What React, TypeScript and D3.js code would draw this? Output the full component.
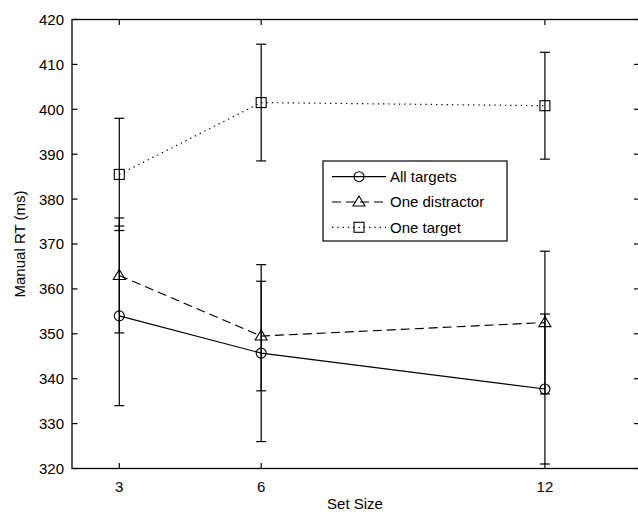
import React from "react";
import * as d3 from "d3";

const setSizes = [3, 6, 12];
const allTargets = [354, 345.7, 337.7];
const allTargetsErr = [20, 19.7, 16.7];
const oneDistractor = [363, 349.5, 352.5];
const oneDistractorErr = [12.8, 12.2, 15.9];
const oneTarget = [385.5, 401.5, 400.8];
const oneTargetErr = [12.5, 13, 11.9];
const yTickValues = [320, 330, 340, 350, 360, 370, 380, 390, 400, 410, 420];
const seriesNames = ["All targets", "One distractor", "One target"];

const W = 638;
const H = 514;
const FONT = "'Liberation Sans', Arial, Helvetica, sans-serif";

type Marker = "circle" | "triangle" | "square";
const series = [
  { name: seriesNames[0], values: allTargets, err: allTargetsErr, marker: "circle" as Marker, dash: "none" },
  { name: seriesNames[1], values: oneDistractor, err: oneDistractorErr, marker: "triangle" as Marker, dash: "9,5" },
  { name: seriesNames[2], values: oneTarget, err: oneTargetErr, marker: "square" as Marker, dash: "1.3,4" },
];

function MarkerShape({ type, x, y }: { type: Marker; x: number; y: number }) {
  const common = { fill: "none", stroke: "#000", strokeWidth: 1.1 };
  if (type === "circle") return <circle cx={x} cy={y} r={5} {...common} />;
  if (type === "square") return <rect x={x - 5} y={y - 5} width={10} height={10} {...common} />;
  return <path d={`M${x},${y - 6}L${x + 6},${y + 4}L${x - 6},${y + 4}Z`} {...common} />;
}

export default function App() {
  const x = d3.scaleLinear().domain([2, 14]).range([72, 639.5]);
  const y = d3.scaleLinear().domain([320, 420]).range([468.5, 19.5]);
  const x0 = x(2);
  const x1 = x(14);
  const y0 = y(320);
  const y1 = y(420);
  const tickLen = 5.5;
  const capW = 5;

  const line = d3
    .line<number>()
    .x((_, i) => x(setSizes[i]))
    .y((d) => y(d));

  const legX = 323;
  const legY = 161;
  const legW = 184;
  const legH = 80;
  const rowYs = [176.7, 202, 227.3];

  return (
    <svg
      width={W}
      height={H}
      style={{ position: "absolute", left: 0, top: 0, background: "#fff" }}
      fontFamily={FONT}
    >
      <rect x={0} y={0} width={W} height={H} fill="#fff" />
      {/* axes box */}
      <rect x={x0} y={y1} width={x1 - x0} height={y0 - y1} fill="none" stroke="#000" strokeWidth={1.3} />
      {/* y ticks */}
      {yTickValues.map((v) => (
        <g key={"y" + v}>
          <line x1={x0} x2={x0 + tickLen} y1={y(v)} y2={y(v)} stroke="#000" strokeWidth={1.2} />
          <line x1={x1 - tickLen} x2={x1} y1={y(v)} y2={y(v)} stroke="#000" strokeWidth={1.2} />
          <text x={x0 - 8} y={y(v)} dy="0.36em" textAnchor="end" fontSize={15} fill="#000">
            {v}
          </text>
        </g>
      ))}
      {/* x ticks */}
      {setSizes.map((v) => (
        <g key={"x" + v}>
          <line x1={x(v)} x2={x(v)} y1={y0} y2={y0 - tickLen} stroke="#000" strokeWidth={1.2} />
          <line x1={x(v)} x2={x(v)} y1={y1} y2={y1 + tickLen} stroke="#000" strokeWidth={1.2} />
          <text x={x(v)} y={y0 + 23} textAnchor="middle" fontSize={15} fill="#000">
            {v}
          </text>
        </g>
      ))}
      <text x={(x0 + 638) / 2} y={509} textAnchor="middle" fontSize={15} fill="#000">
        Set Size
      </text>
      <text
        transform={`translate(25,${(y0 + y1) / 2}) rotate(-90)`}
        textAnchor="middle"
        fontSize={15}
        fill="#000"
      >
        Manual RT (ms)
      </text>

      {/* series */}
      {series.map((s) => (
        <g key={s.name}>
          {s.values.map((v, i) => {
            const cx = x(setSizes[i]);
            const lo = y(v - s.err[i]);
            const hi = y(v + s.err[i]);
            return (
              <g key={i} stroke="#000" strokeWidth={1.2}>
                <line x1={cx} x2={cx} y1={lo} y2={hi} />
                <line x1={cx - capW} x2={cx + capW} y1={lo} y2={lo} />
                <line x1={cx - capW} x2={cx + capW} y1={hi} y2={hi} />
              </g>
            );
          })}
          <path
            d={line(s.values) || ""}
            fill="none"
            stroke="#000"
            strokeWidth={1.2}
            strokeDasharray={s.dash}
          />
          {s.values.map((v, i) => (
            <MarkerShape key={i} type={s.marker} x={x(setSizes[i])} y={y(v)} />
          ))}
        </g>
      ))}

      {/* legend */}
      <rect x={legX} y={legY} width={legW} height={legH} fill="#fff" stroke="#000" strokeWidth={1.2} />
      {series.map((s, i) => (
        <g key={"leg" + i}>
          <line
            x1={332}
            x2={386}
            y1={rowYs[i]}
            y2={rowYs[i]}
            stroke="#000"
            strokeWidth={1.2}
            strokeDasharray={s.dash}
          />
          <MarkerShape type={s.marker} x={359} y={rowYs[i]} />
          <text x={390} y={rowYs[i]} dy="0.36em" fontSize={15} fill="#000">
            {s.name}
          </text>
        </g>
      ))}
    </svg>
  );
}
